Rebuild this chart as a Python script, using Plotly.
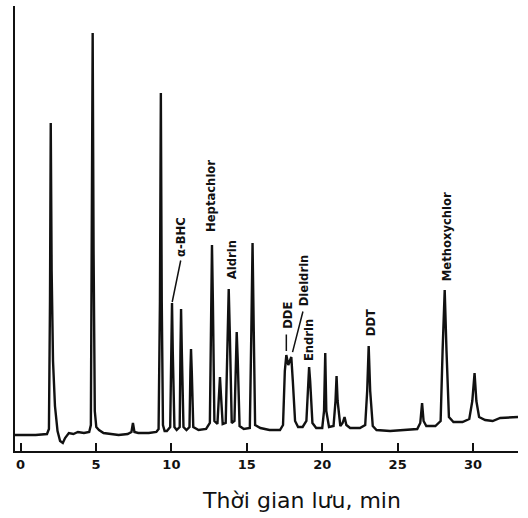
import plotly.graph_objects as go

# Chromatogram trace: retention time (min) and detector signal (arbitrary units)
time_min = [
    -0.37, 1.0, 1.75, 1.88, 1.95, 2.00, 2.06, 2.15, 2.28, 2.45, 2.62, 2.80, 2.95, 3.2, 3.5, 3.8, 4.2,
    4.55, 4.66, 4.73, 4.78, 4.84, 4.92, 5.02, 5.2, 5.5, 6.0, 6.5, 7.1, 7.35, 7.45, 7.55, 7.8, 8.5,
    9.0, 9.15, 9.24, 9.30, 9.36, 9.44, 9.55, 9.7, 9.92, 9.99, 10.04, 10.09, 10.2, 10.35, 10.55, 10.60,
    10.64, 10.69, 10.8, 11.0, 11.2, 11.26, 11.30, 11.35, 11.45, 11.8, 12.3, 12.55, 12.63, 12.69, 12.75,
    12.85, 13.05, 13.15, 13.22, 13.29, 13.4, 13.6, 13.72, 13.80, 13.87, 14.0, 14.18, 14.27, 14.33,
    14.40, 14.52, 14.8, 15.2, 15.30, 15.38, 15.46, 15.55, 15.9, 16.5, 17.2, 17.4, 17.52, 17.62, 17.75,
    17.87, 17.95, 18.05, 18.2, 18.4, 18.7, 18.95, 19.06, 19.13, 19.20, 19.35, 19.6, 20.0, 20.12, 20.20,
    20.27, 20.45, 20.75, 20.88, 20.95, 21.02, 21.2, 21.35, 21.48, 21.6, 21.85, 22.5, 22.85, 22.98,
    23.08, 23.18, 23.35, 23.6, 24.5, 25.5, 26.3, 26.5, 26.62, 26.72, 26.9, 27.5, 27.85, 27.98, 28.12,
    28.24, 28.4, 28.7, 29.3, 29.75, 29.95, 30.1, 30.22, 30.4, 30.8, 31.3, 31.8, 32.98,
]
signal = [
    16, 16, 17, 22, 150, 328, 180, 90, 45, 20, 10, 8, 13, 18, 17, 19, 18,
    19, 26, 200, 418, 200, 40, 24, 21, 18, 17, 16, 17, 19, 28, 19, 18, 18,
    19, 22, 150, 358, 150, 26, 20, 20, 24, 100, 148, 100, 24, 21, 24, 100,
    142, 100, 24, 21, 24, 80, 102, 80, 24, 21, 22, 28, 150, 206, 150,
    30, 27, 55, 74, 55, 27, 28, 120, 162, 120, 28, 30, 90, 119,
    90, 25, 22, 23, 120, 208, 120, 26, 23, 21, 21, 26, 80, 96, 86,
    90, 94, 70, 30, 24, 24, 30, 70, 84, 70, 28, 23, 23, 40, 98,
    40, 24, 25, 50, 75, 50, 25, 28, 34, 26, 23, 23, 26, 60,
    105, 60, 25, 21, 20, 21, 22, 28, 48, 30, 25, 25, 30, 100, 161,
    100, 34, 29, 29, 32, 50, 78, 50, 34, 31, 30, 33, 34,
]

# Labelled compounds and the retention time of their peak
compound_names = ["α-BHC", "Heptachlor", "Aldrin", "DDE", "Dieldrin", "Endrin", "DDT", "Methoxychlor"]
compound_times = [10.04, 12.69, 13.80, 17.62, 17.95, 19.13, 23.08, 28.12]

# X axis ticks
tick_values = [0, 5, 10, 15, 20, 25, 30]
tick_labels = ["0", "5", "10", "15", "20", "25", "30"]

axis_title = "Thời gian lưu, min"

# Label placement (pixel offsets from the peak apex): (xshift, gap above peak)
label_offsets = {
    "α-BHC": (9, 45), "Heptachlor": (-1, 12), "Aldrin": (3, 9), "DDE": (1, 25),
    "Dieldrin": (13, 50), "Endrin": (0, 5), "DDT": (2, 9), "Methoxychlor": (2, 8),
}
# Leader lines: (tail dx, tail dy, standoff)
leaders = {"α-BHC": (9, -44, 1), "DDE": (0, -22, 4), "Dieldrin": (12, -47, 5)}


def peak_height(t):
    i = min(range(len(time_min)), key=lambda k: abs(time_min[k] - t))
    return signal[i]


fig = go.Figure()
fig.add_trace(go.Scatter(
    x=time_min, y=signal, mode="lines",
    line=dict(color="#111111", width=2.4),
    hoverinfo="skip", showlegend=False,
))

annotations = []
for name, t in zip(compound_names, compound_times):
    h = peak_height(t)
    dx, gap = label_offsets[name]
    annotations.append(dict(
        x=t, y=h, xref="x", yref="y", text=name, textangle=-90,
        showarrow=False, xanchor="center", yanchor="bottom",
        xshift=dx, yshift=gap, borderpad=0,
        font=dict(family="DejaVu Sans", size=11.6, color="#111111", weight="bold"),
    ))
    if name in leaders:
        ax, ay, so = leaders[name]
        annotations.append(dict(
            x=t, y=h, xref="x", yref="y", text="", showarrow=True,
            arrowhead=0, arrowwidth=1.5, arrowcolor="#111111",
            ax=ax, ay=ay, standoff=so,
        ))

annotations.append(dict(
    x=(301 - 15) / 503, y=-0.112, xref="paper", yref="paper",
    text=axis_title, showarrow=False, xanchor="center", yanchor="middle",
    font=dict(family="DejaVu Sans", size=22, color="#111111"),
))

fig.update_layout(
    width=528, height=518,
    margin=dict(l=15, r=10, t=6, b=67),
    paper_bgcolor="white", plot_bgcolor="white",
    annotations=annotations,
    xaxis=dict(
        range=[-0.37, 32.98], showgrid=False, zeroline=False,
        showline=True, linecolor="#111111", linewidth=2,
        ticks="inside", ticklen=8, tickwidth=2, tickcolor="#111111",
        tickvals=tick_values, ticktext=tick_labels,
        tickfont=dict(family="DejaVu Sans", size=13, color="#111111", weight="bold"),
    ),
    yaxis=dict(
        range=[0, 445], showgrid=False, zeroline=False,
        showline=True, linecolor="#111111", linewidth=2,
        showticklabels=False, ticks="",
    ),
)

fig.write_html("out.html", config={"displayModeBar": False},
               post_script="document.body.style.margin='0px';")
